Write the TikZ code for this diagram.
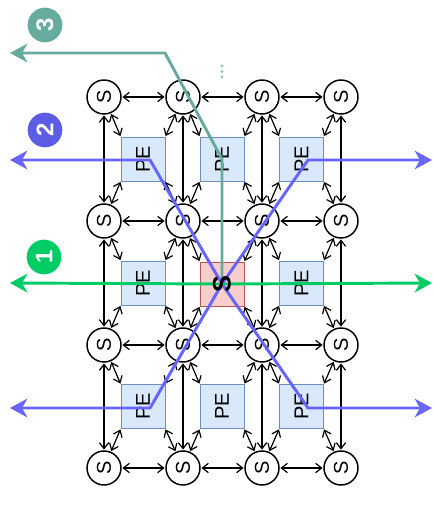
\documentclass[tikz,border=0pt]{standalone}
\usepackage{fontspec}
\setmainfont{Liberation Sans}
\usetikzlibrary{arrows.meta, calc, positioning}

\definecolor{pefill}{HTML}{DAE8FC}
\definecolor{peline}{HTML}{6C8EBF}
\definecolor{hubfill}{HTML}{F8CECC}
\definecolor{hubline}{HTML}{B85450}
\definecolor{routeA}{RGB}{0,204,102}
\definecolor{routeB}{RGB}{102,102,255}
\definecolor{routeC}{RGB}{103,171,159}

\begin{document}
\begin{tikzpicture}[
    x=0.75pt, y=-0.75pt,
    sw/.style={circle, draw, line width=1.1pt, fill=white, minimum size=25.5pt, inner sep=0pt, font=\fontsize{15}{15}\selectfont},
    pe/.style={rectangle, draw=peline, fill=pefill, minimum size=33pt, inner sep=0pt, font=\fontsize{15}{15}\selectfont},
    hub/.style={rectangle, draw=hubline, fill=hubfill, minimum size=33pt, inner sep=0pt},
    link/.style={{Straight Barb[length=4.5pt,width=7pt]}-{Straight Barb[length=4.5pt,width=7pt]}, line width=0.9pt, shorten >=0.5pt, shorten <=0.5pt},
    route/.style={line width=2.2pt, -{Stealth[length=13pt,width=14pt,inset=4pt]}},
    tag/.style={circle, minimum size=26pt, inner sep=0pt, text=white, font=\bfseries\fontsize{18}{18}\selectfont}
]
\useasboundingbox (0,0) rectangle (433,506);

% switches
\foreach \c/\x in {1/104, 2/183, 3/262, 4/341}
  \foreach \r/\y in {1/97, 2/221, 3/345, 4/468}
    \node[sw] (s\r\c) at (\x,\y) {\rotatebox{90}{S}};

% processing elements
\node[pe] (pe11) at (143,159) {\rotatebox{90}{PE}};
\node[pe] (pe12) at (222,159) {\rotatebox{90}{PE}};
\node[pe] (pe13) at (301.5,159) {\rotatebox{90}{PE}};
\node[pe] (pe21) at (143,283) {\rotatebox{90}{PE}};
\node[hub] (pe22) at (222,284) {};
\node[pe] (pe23) at (301.5,283) {\rotatebox{90}{PE}};
\node[pe] (pe31) at (143,406.5) {\rotatebox{90}{PE}};
\node[pe] (pe32) at (222,406.5) {\rotatebox{90}{PE}};
\node[pe] (pe33) at (301.5,406.5) {\rotatebox{90}{PE}};

% switch to switch links
\foreach \r in {1,...,4}
  \foreach \a/\b in {1/2, 2/3, 3/4} {
    \draw[link] (s\r\a) -- (s\r\b);
    \draw[link] (s\a\r) -- (s\b\r);
  }

% switch to PE links
\foreach \r/\rn in {1/2, 2/3, 3/4}
  \foreach \c/\cn in {1/2, 2/3, 3/4} {
    \draw[link] (s\r\c) -- (pe\r\c.north west);
    \draw[link] (s\r\cn) -- (pe\r\c.north east);
    \draw[link] (s\rn\c) -- (pe\r\c.south west);
    \draw[link] (s\rn\cn) -- (pe\r\c.south east);
  }

% route ends and bends
\coordinate (a-w) at (10,283);
\coordinate (a-e) at (432,283);
\coordinate (b-nw) at (150,160);
\coordinate (b-ne) at (308,160);
\coordinate (b-sw) at (150,408);
\coordinate (b-se) at (308,408);
\coordinate (b-wn) at (10,160);
\coordinate (b-en) at (432,160);
\coordinate (b-ws) at (10,408);
\coordinate (b-es) at (432,408);
\coordinate (c-bend) at (165,53);
\coordinate (c-w) at (10,53);

% routes
\draw[route, routeC] (pe22.center) -- (pe12.center) -- (c-bend) -- (c-w);
\draw[route, routeB] (pe22.center) -- (b-nw) -- (b-wn);
\draw[route, routeB] (pe22.center) -- (b-ne) -- (b-en);
\draw[route, routeB] (pe22.center) -- (b-sw) -- (b-ws);
\draw[route, routeB] (pe22.center) -- (b-se) -- (b-es);
\draw[route, routeA] (pe22.center) -- (a-w);
\draw[route, routeA] (pe22.center) -- (a-e);

\node[font=\bfseries\fontsize{19}{19}\selectfont] (hub-s) at (pe22) {\rotatebox{90}{S}};

% more of the column above
\foreach \y in {66, 71.5, 77}
  \fill[routeC!70] (222,\y) circle (1.6);

% route tags
\node[tag, fill=routeA] (tag1) at (44,257) {\rotatebox{90}{1}};
\node[tag, fill=routeB!90!black] (tag2) at (45,130) {\rotatebox{90}{2}};
\node[tag, fill=routeC] (tag3) at (45,25) {\rotatebox{90}{3}};

\end{tikzpicture}
\end{document}
